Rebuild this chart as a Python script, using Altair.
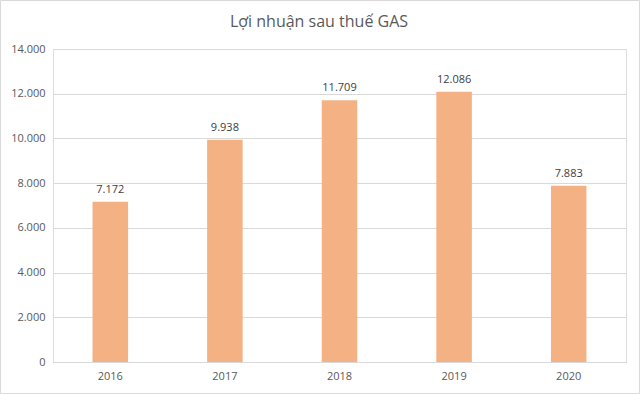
import altair as alt
import pandas as pd

years = ["2016", "2017", "2018", "2019", "2020"]
profits = [7172, 9938, 11709, 12086, 7883]
labels = ["7.172", "9.938", "11.709", "12.086", "7.883"]
chart_title = "Lợi nhuận sau thuế GAS"

df = pd.DataFrame({"year": years, "value": profits, "label": labels})

FONT = "Open Sans"
W, H = 573, 313

base = alt.Chart(df)

bars = base.mark_bar(color="#F4B183").encode(
    x=alt.X("year:N", title=None,
            scale=alt.Scale(paddingInner=0.69, paddingOuter=0.345),
            axis=alt.Axis(labelAngle=0, ticks=False, domain=True, domainColor="#D9D9D9",
                          labelPadding=8, labelFontSize=11, labelColor="#595959", labelFont=FONT)),
    y=alt.Y("value:Q", title=None,
            scale=alt.Scale(domain=[0, 14000], nice=False),
            axis=alt.Axis(values=list(range(0, 14001, 2000)), domain=False, ticks=False,
                          gridColor="#D9D9D9", labelPadding=8, labelFontSize=11,
                          labelColor="#595959", labelFont=FONT,
                          labelExpr="replace(format(datum.value, ','), ',', '.')")),
)

text = base.mark_text(baseline="bottom", dy=-7, fontSize=11, color="#404040", font=FONT).encode(
    x="year:N", y="value:Q", text="label:N"
)

border = alt.Chart(pd.DataFrame({"a": [0]})).mark_rect(
    fill=None, stroke="#D9D9D9", strokeWidth=1, clip=False
).encode(
    x=alt.value(-52.5), x2=alt.value(W + 13.5),
    y=alt.value(-48.5), y2=alt.value(H + 31.5),
)

title = alt.Chart(pd.DataFrame({"t": [chart_title]})).mark_text(
    fontSize=16, font=FONT, color="#595959", align="center", baseline="middle", clip=False
).encode(
    x=alt.value(319 - 53), y=alt.value(22 - 49), text="t:N"
)

chart = alt.layer(bars, text, border, title).properties(
    width=W, height=H,
    autosize=alt.AutoSizeParams(type="none"),
    padding={"left": 53, "top": 49, "right": 14, "bottom": 32},
).configure_view(stroke=None).configure(background="white")

chart.save("out.html", embed_options={"renderer": "svg", "actions": False})
